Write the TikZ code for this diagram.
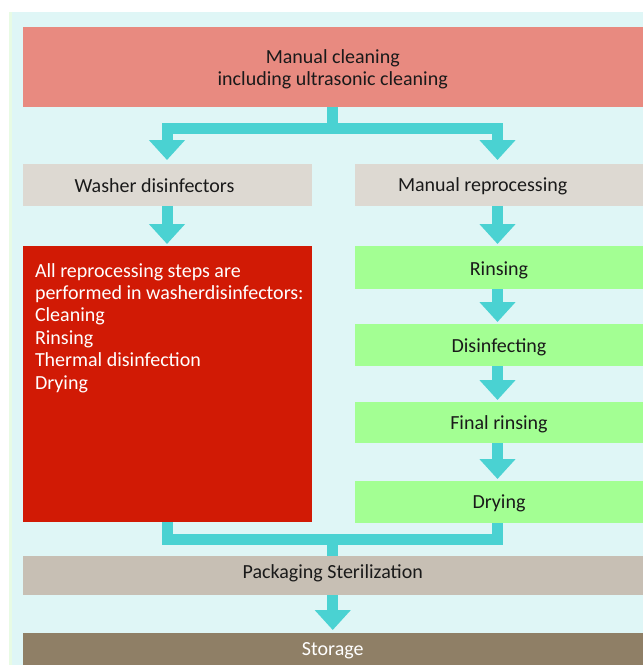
\documentclass[tikz,border=0pt]{standalone}
\usepackage{fontspec}
\setmainfont{Carlito}
\usetikzlibrary{arrows.meta}
\definecolor{bgc}{HTML}{DFF6F6}
\definecolor{bgstrip}{HTML}{E8FBE4}
\definecolor{topc}{HTML}{E88A80}
\definecolor{grayc}{HTML}{DDD9D2}
\definecolor{redc}{HTML}{D11A05}
\definecolor{greenc}{HTML}{A3FF93}
\definecolor{packc}{HTML}{C7BFB4}
\definecolor{storc}{HTML}{8F7F66}
\definecolor{flowc}{HTML}{4AD2D2}
\definecolor{txtc}{HTML}{1A1A1A}
\tikzset{
  box/.style={draw=none, inner sep=0pt, outer sep=0pt, anchor=north west, text=txtc,
    font=\fontsize{20}{22.4}\selectfont},
  flowline/.style={draw=flowc, line width=11pt, line join=miter},
  flowarrow/.style={flowline, -{Triangle[width=35pt,length=20pt]}},
}
\begin{document}
\begin{tikzpicture}[x=1pt,y=-1pt]
\useasboundingbox (0,0) rectangle (643,665);
\fill[bgc] (9,12) rectangle (660,680);
\fill[bgstrip] (9,12) rectangle (12,680);
% boxes
\node[box, fill=topc, minimum width=640, minimum height=80] (top) at (23,27) {};
\node[font=\fontsize{20}{22.4}\selectfont, text=txtc, align=center, inner sep=0pt] (toptext) at (332.75,69)
  {Manual cleaning\\including ultrasonic cleaning};
\node[box, fill=grayc, minimum width=289, minimum height=42] (wd) at (23,164) {};
\node[box, anchor=base west] (wdtext) at (74.6,192) {Washer disinfectors};
\node[box, fill=grayc, minimum width=300, minimum height=42] (mr) at (354.5,164) {};
\node[box, anchor=base west] (mrtext) at (398,191) {Manual reprocessing};
\node[box, fill=redc, minimum width=289, minimum height=276] (rd) at (23,246) {};
\node[box, text=white, align=left, anchor=base west] (rdtext) at (35,389)
  {All reprocessing steps are\\performed in washerdisinfectors:\\Cleaning\\Rinsing\\Thermal disinfection\\Drying};
\node[box, fill=greenc, minimum width=289, minimum height=43] (g1) at (354.5,246) {};
\node[box, anchor=base] (g1text) at (499,275) {Rinsing};
\node[box, fill=greenc, minimum width=289, minimum height=42] (g2) at (354.5,324) {};
\node[box, anchor=base] (g2text) at (499,352) {Disinfecting};
\node[box, fill=greenc, minimum width=289, minimum height=41] (g3) at (354.5,402) {};
\node[box, anchor=base] (g3text) at (499,429) {Final rinsing};
\node[box, fill=greenc, minimum width=289, minimum height=42] (g4) at (354.5,481) {};
\node[box, anchor=base] (g4text) at (499,508) {Drying};
\node[box, fill=packc, minimum width=640, minimum height=39] (pk) at (23,556) {};
\node[box, anchor=base] (pktext) at (332.75,578) {Packaging Sterilization};
\node[box, fill=storc, minimum width=640, minimum height=40] (st) at (23,633) {};
\node[box, anchor=base, text=white] (sttext) at (332.75,655) {Storage};
% connectors
\coordinate (split) at (332.75,128);
\coordinate (merge) at (332.75,539);
\draw[flowline] (top.south -| split) -- (split);
\draw[flowarrow, shorten >=4pt] (split) -| (167,164);
\draw[flowarrow, shorten >=4pt] (split) -| (497.5,164);
\draw[flowarrow, shorten >=2pt] (167,206) -- (167,246);
\draw[flowarrow, shorten >=2pt] (497.5,206) -- (497.5,246);
\draw[flowarrow, shorten >=2pt] (497.5,289) -- (497.5,324);
\draw[flowarrow, shorten >=2pt] (497.5,366) -- (497.5,402);
\draw[flowarrow, shorten >=2pt] (497.5,443) -- (497.5,481);
\draw[flowline] (167,522) |- (merge);
\draw[flowline] (497.5,523) |- (merge);
\draw[flowline] (merge) -- (332.75,556);
\draw[flowarrow, shorten >=3pt] (332.75,595) -- (332.75,633);
\end{tikzpicture}
\end{document}
